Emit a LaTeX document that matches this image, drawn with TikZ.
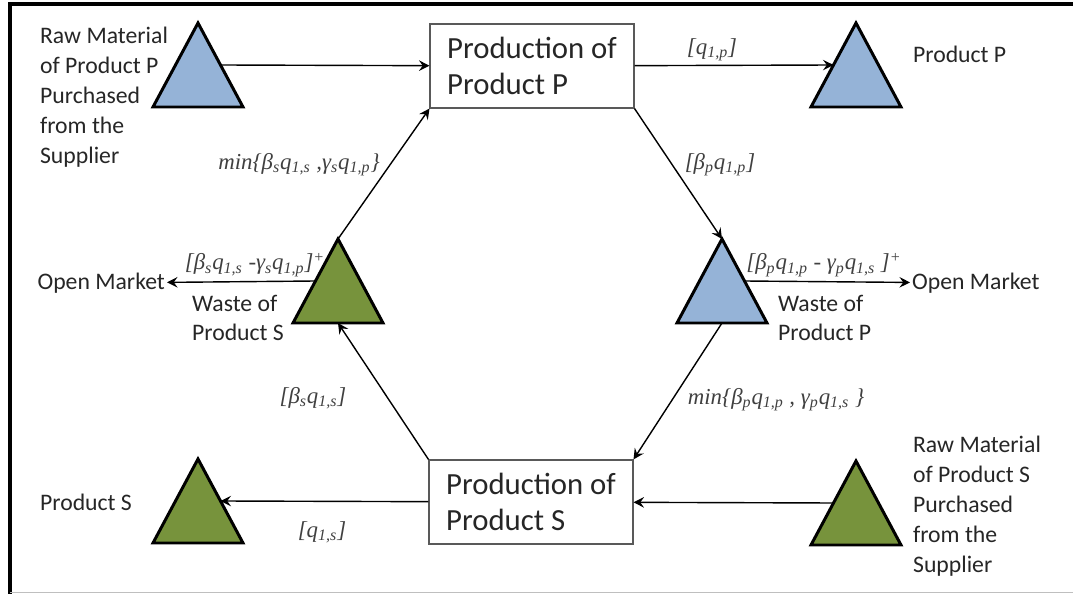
\documentclass[tikz,border=0pt]{standalone}
\usepackage{fontspec}
\setmainfont{Carlito}
\newfontfamily\tmsfont{Liberation Serif}
\usetikzlibrary{arrows.meta}

\definecolor{triblue}{HTML}{95B3D7}
\definecolor{trigreen}{HTML}{77933C}
\newcommand{\sbs}[1]{\textsubscript{#1}}

\tikzset{
  stock/.pic={
    \draw[line width=1.7pt,fill=#1] (-45,0) -- (0,-84) -- (45,0) -- cycle;
    \coordinate (-apex) at (0,-84);
    \coordinate (-base) at (0,0);
    \coordinate (-lside) at (-22.5,-42);
    \coordinate (-rside) at (22.5,-42);
  }
}

\begin{document}
\begin{tikzpicture}[x=0.02cm,y=-0.02cm,>={Stealth[length=6pt,width=6pt,inset=2.2pt]},
  prodbox/.style={draw=black!65,line width=0.6pt,fill=white,minimum width=4.08cm,
    minimum height=1.68cm,align=left,text=black!85,font=\fontsize{17.5}{20.5}\selectfont},
  txt/.style={align=left,inner sep=1pt,text=black!85,font=\fontsize{13.5}{17}\selectfont},
  qty/.style={inner sep=0pt,text=black!75,font=\tmsfont\itshape\fontsize{13}{15}\selectfont},
  flow/.style={->,line width=0.8pt}]
  \useasboundingbox (0,0) rectangle (1073,594);
  % frame
  \draw[line width=2pt] (10,594) -- (10,4) -- (1073,4);
  \draw[black!25] (10,592) -- (1073,592);

  % production units
  \node[prodbox] (boxP) at (532,66) {Production of\\Product P};
  \node[prodbox] (boxS) at (531,502) {Production of\\Product S};

  % stocks (placed at the middle of the base)
  \pic (rawP) at (198,107) {stock=triblue};
  \pic (prodP) at (856,107) {stock=triblue};
  \pic (wasteS) at (338,323) {stock=trigreen};
  \pic (wasteP) at (722,323) {stock=triblue};
  \pic (prodS) at (198,543) {stock=trigreen};
  \pic (rawS) at (856,545) {stock=trigreen};

  % texts
  \node[txt,anchor=west] (rawPtxt) at (38,97) {Raw Material\\of Product P\\Purchased\\from the\\Supplier};
  \node[txt,anchor=west] (prodPtxt) at (911,54) {Product P};
  \node[txt,anchor=east] (omL) at (167,283) {Open Market};
  \node[txt,anchor=west] (omR) at (910,283) {Open Market};
  \node[txt,anchor=west] (wasteStxt) at (190,318) {Waste of\\Product S};
  \node[txt,anchor=west] (wastePtxt) at (776,318) {Waste of\\Product P};
  \node[txt,anchor=west] (prodStxt) at (38,502) {Product S};
  \node[txt,anchor=west] (rawStxt) at (911,506) {Raw Material\\of Product S\\Purchased\\from the\\Supplier};

  % quantities
  \node[qty] (lqP) at (712,50) {[q\sbs{1,p}]};
  \node[qty] (lbP) at (720,165) {[β\sbs{p}q\sbs{1,p}]};
  \node[qty] (lminS) at (299,165) {min\{β\sbs{s}q\sbs{1,s} ,γ\sbs{s}q\sbs{1,p}\}};
  \node[qty] (lexS) at (255,265) {[β\sbs{s}q\sbs{1,s} -γ\sbs{s}q\sbs{1,p}]\textsuperscript{+}};
  \node[qty] (lexP) at (824,265) {[β\sbs{p}q\sbs{1,p} - γ\sbs{p}q\sbs{1,s} ]\textsuperscript{+}};
  \node[qty] (lbS) at (313,398) {[β\sbs{s}q\sbs{1,s}]};
  \node[qty] (lminP) at (776,400) {min\{β\sbs{p}q\sbs{1,p} , γ\sbs{p}q\sbs{1,s} \}};
  \node[qty] (lqS) at (322,532) {[q\sbs{1,s}]};

  % flows
  \draw[flow] (rawP-rside) -- (boxP);
  \draw[flow] (boxP) -- (prodP-lside);
  \draw[flow] (boxP.south east) -- (wasteP-apex);
  \draw[flow] (wasteS-apex) -- (boxP.south west);
  \draw[flow] (wasteS-lside) -- (omL);
  \draw[flow] (wasteP-rside) -- (omR);
  \draw[flow] (wasteP-base) -- (boxS.north east);
  \draw[flow] (boxS.north west) -- (wasteS-base);
  \draw[flow] (boxS) -- (prodS-rside);
  \draw[flow] (rawS-lside) -- (boxS);
\end{tikzpicture}
\end{document}
